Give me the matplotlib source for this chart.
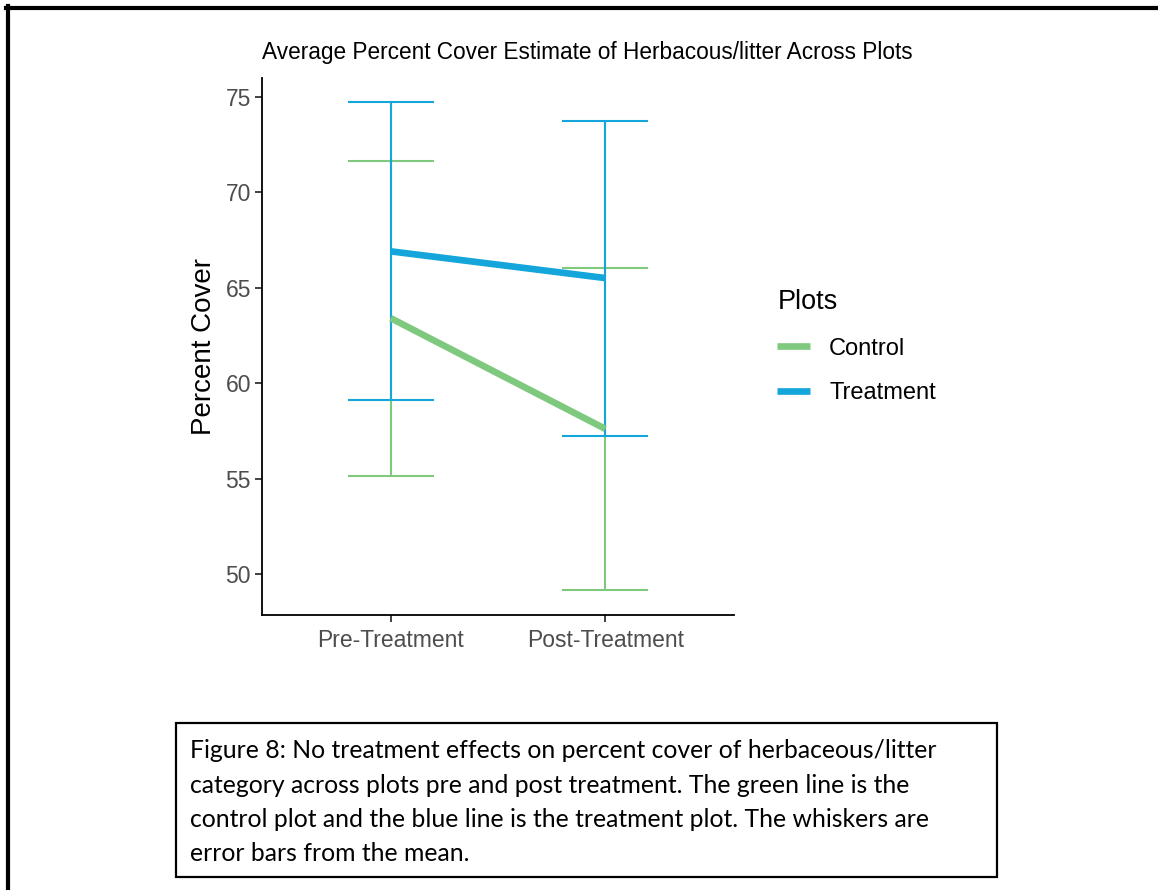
import matplotlib
matplotlib.use("Agg")
import matplotlib.pyplot as plt
from matplotlib.lines import Line2D
from matplotlib.patches import Rectangle

# ---- data ----
periods = ["Pre-Treatment", "Post-Treatment"]
groups = ["Control", "Treatment"]
control_mean = [63.4, 57.6]
control_err = [8.25, 8.45]
treatment_mean = [66.9, 65.5]
treatment_err = [7.8, 8.25]

colors = {"Control": "#7FC97F", "Treatment": "#14A5DA"}
means = {"Control": control_mean, "Treatment": treatment_mean}
errs = {"Control": control_err, "Treatment": treatment_err}

title = "Average Percent Cover Estimate of Herbacous/litter Across Plots"
ylabel = "Percent Cover"
legend_title = "Plots"
caption_lines = [
    "Figure 8: No treatment effects on percent cover of herbaceous/litter",
    "category across plots pre and post treatment. The green line is the",
    "control plot and the blue line is the treatment plot. The whiskers are",
    "error bars from the mean.",
]

W, H = 1158, 890
fig = plt.figure(figsize=(W / 100, H / 100), dpi=100)
fig.patch.set_facecolor("white")

ax = fig.add_axes([262 / W, 1 - 615 / H, (734 - 262) / W, (615 - 78) / H])
x = [1, 2]
for g in groups:
    ax.errorbar(x, means[g], yerr=errs[g], fmt="none", ecolor=colors[g],
                elinewidth=1.5, capsize=0, zorder=2)
    for xi, m, e in zip(x, means[g], errs[g]):
        for yv in (m - e, m + e):
            ax.plot([xi - 0.2, xi + 0.2], [yv, yv], color=colors[g], lw=1.5,
                    solid_capstyle="butt", zorder=2)
for g in groups:
    ax.plot(x, means[g], color=colors[g], lw=4.8, solid_capstyle="butt", zorder=3)

ax.set_xlim(0.4, 2.6)
ax.set_ylim(47.85, 75.98)
ax.set_xticks(x)
ax.set_xticklabels(periods)
ax.set_yticks([50, 55, 60, 65, 70, 75])
for s in ["top", "right"]:
    ax.spines[s].set_visible(False)
for s in ["left", "bottom"]:
    ax.spines[s].set_linewidth(1.3)
    ax.spines[s].set_color("black")
ax.tick_params(axis="both", length=5, width=1.3, color="#333333",
               labelcolor="#4D4D4D", labelsize=16.5, pad=3)
ax.tick_params(axis="x", pad=5)
for lab in ax.get_xticklabels() + ax.get_yticklabels():
    lab.set_family("Liberation Sans")
ax.set_ylabel(ylabel, fontsize=20, family="Liberation Sans", labelpad=6)

fig.text(262 / W, 1 - 52 / H, title, fontsize=16.3, family="Liberation Sans",
         ha="left", va="center", color="black")

# legend
handles = [Line2D([0], [0], color=colors[g], lw=4.8, solid_capstyle="butt") for g in groups]
leg = fig.legend(handles, groups, title=legend_title, loc="upper left",
                 bbox_to_anchor=(756 / W, 1 - 268 / H), frameon=False,
                 prop={"family": "Liberation Sans", "size": 17},
                 title_fontproperties={"family": "Liberation Sans", "size": 19.5},
                 handlelength=1.4, handletextpad=0.8, labelspacing=0.95)
leg._legend_box.align = "left"

# caption box
fig.patches.append(Rectangle((176 / W, 1 - 877 / H), (997 - 176) / W, (877 - 723) / H,
                             transform=fig.transFigure, fill=False, edgecolor="black",
                             lw=1.6))
for i, line in enumerate(caption_lines):
    fig.text(190 / W, 1 - (751 + 34.3 * i) / H, line, fontsize=17.8, family="Lato",
             ha="left", va="center", color="black")

# outer page border (top and left)
fig.add_artist(Line2D([6 / W, 1], [1 - 8 / H, 1 - 8 / H], transform=fig.transFigure,
                      color="black", lw=3.0))
fig.add_artist(Line2D([8 / W, 8 / W], [0, 1 - 6 / H], transform=fig.transFigure,
                      color="black", lw=3.0))

fig.savefig("out.png", dpi=100)
